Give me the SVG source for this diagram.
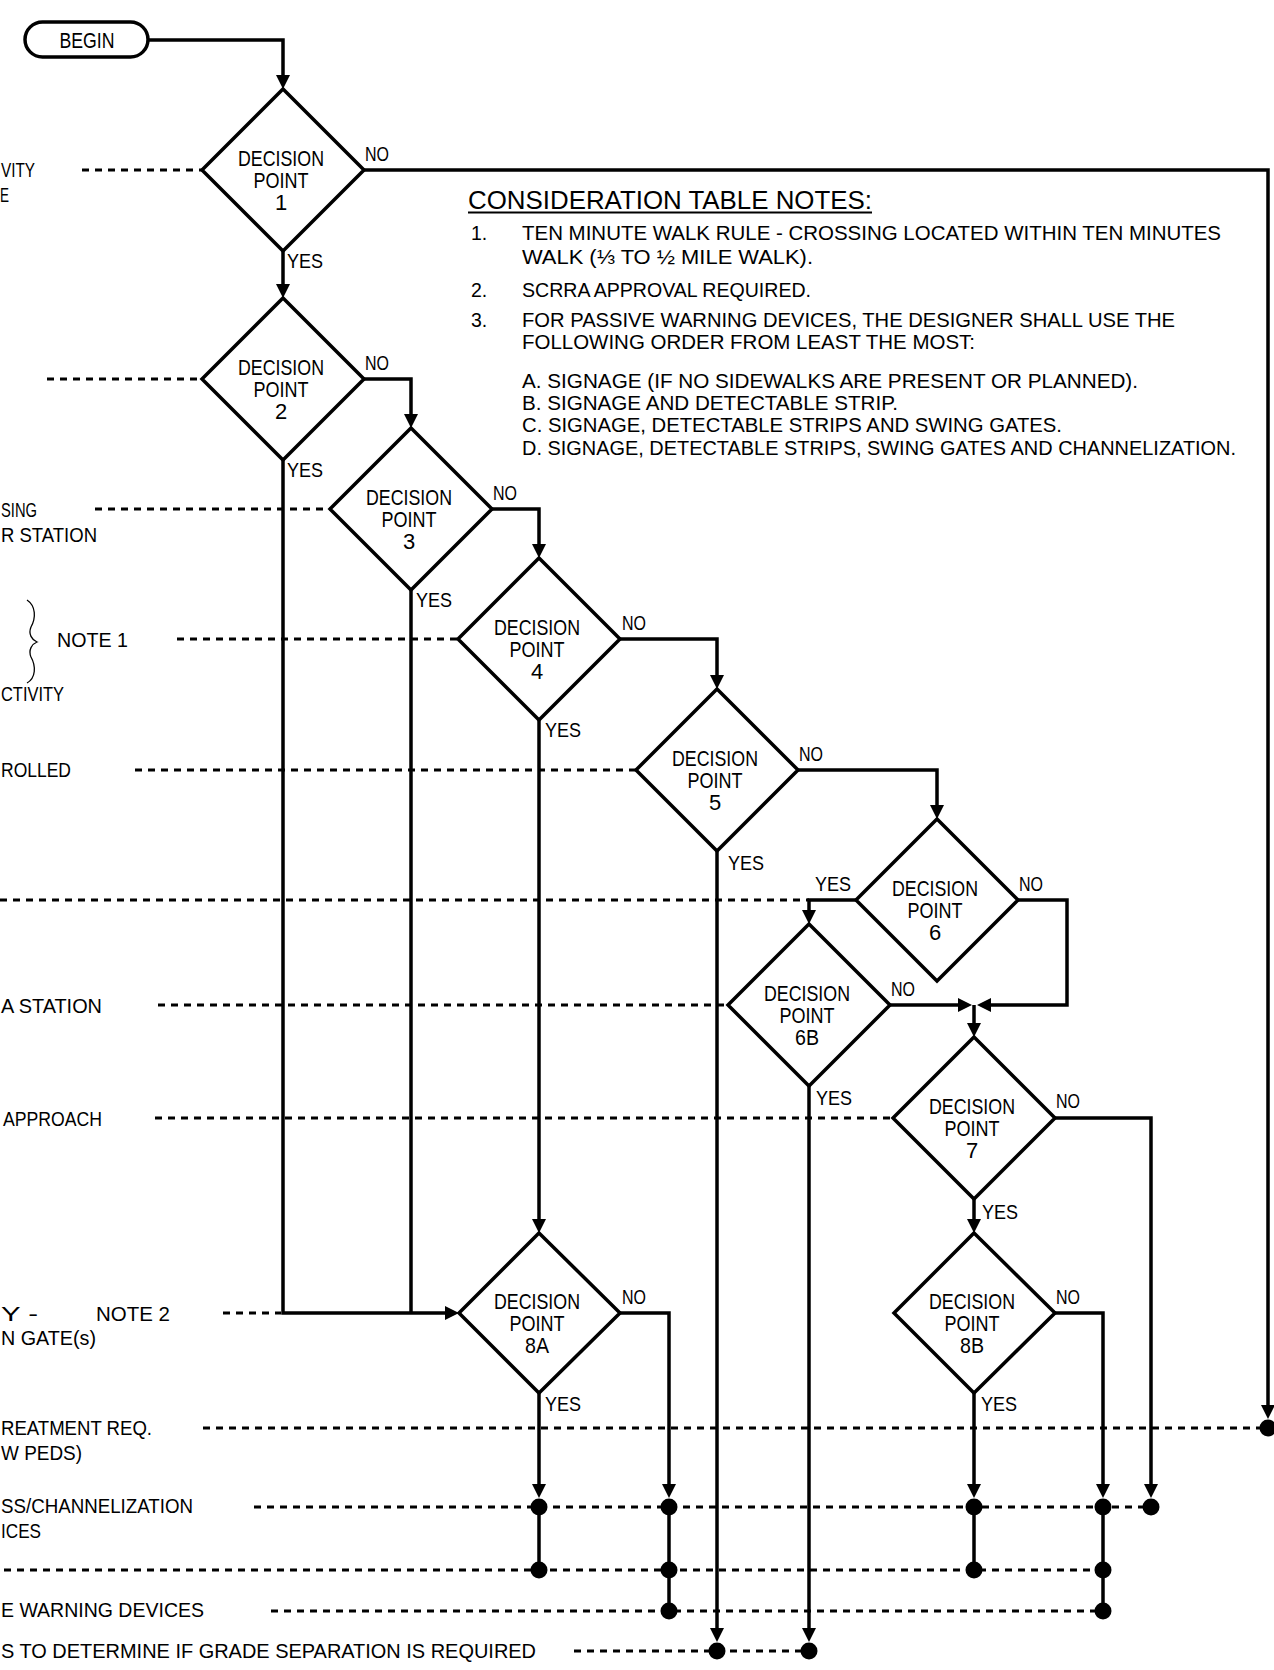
<svg xmlns="http://www.w3.org/2000/svg" width="1274" height="1670" viewBox="0 0 1274 1670">
<style>
text{font-family:"Liberation Sans",Arial,sans-serif;fill:#000}
.d{font-size:22px;text-anchor:middle}
.lb{font-size:21px}
.lt{font-size:21px}
.nt{font-size:19.5px}
.ttl{font-size:26px}
.shape{fill:#fff;stroke:#000;stroke-width:3.5;stroke-linejoin:miter}
.ln{fill:none;stroke:#000;stroke-width:3.5}
.ar{marker-end:url(#ah)}
.dash{fill:none;stroke:#000;stroke-width:3;stroke-dasharray:7 6}
.dot{fill:#000}
</style>
<defs>
<marker id="ah" markerUnits="userSpaceOnUse" markerWidth="14" markerHeight="14" viewBox="0 0 14 14" refX="10" refY="7" orient="auto">
<path d="M0,0 L14,7 L0,14 z" fill="#000"/>
</marker>
</defs>
<rect width="1274" height="1670" fill="#fff"/>

<g id="guides">
<line class="dash" x1="82" y1="170" x2="202" y2="170"/>
<line class="dash" x1="47" y1="379" x2="202" y2="379"/>
<line class="dash" x1="95" y1="509" x2="330" y2="509"/>
<line class="dash" x1="177" y1="639" x2="458" y2="639"/>
<line class="dash" x1="135" y1="770" x2="636" y2="770"/>
<line class="dash" x1="0" y1="900" x2="809" y2="900"/>
<line class="dash" x1="158" y1="1005" x2="728" y2="1005"/>
<line class="dash" x1="155" y1="1118" x2="893" y2="1118"/>
<line class="dash" x1="223" y1="1313" x2="281" y2="1313"/>
<line class="dash" x1="203" y1="1428" x2="1268" y2="1428"/>
<line class="dash" x1="254" y1="1507" x2="1151" y2="1507"/>
<line class="dash" x1="4" y1="1570" x2="1103" y2="1570"/>
<line class="dash" x1="271" y1="1611" x2="1103" y2="1611"/>
<line class="dash" x1="574" y1="1651" x2="809" y2="1651"/>
</g>

<g id="row-labels">
<text class="lt" x="1" y="177" textLength="34" lengthAdjust="spacingAndGlyphs">VITY</text>
<text class="lt" x="0" y="202" textLength="9" lengthAdjust="spacingAndGlyphs">E</text>
<text class="lt" x="1" y="517" textLength="36" lengthAdjust="spacingAndGlyphs">SING</text>
<text class="lt" x="1" y="542" textLength="96" lengthAdjust="spacingAndGlyphs">R STATION</text>
<path d="M27,600 C36,606 36,618 31,627 C28,634 32,640 37,642 C32,644 28,650 31,657 C36,666 36,678 27,683" fill="none" stroke="#000" stroke-width="1.3"/>
<text class="lt" x="57" y="647" textLength="71" lengthAdjust="spacingAndGlyphs">NOTE 1</text>
<text class="lt" x="1" y="701" textLength="63" lengthAdjust="spacingAndGlyphs">CTIVITY</text>
<text class="lt" x="1" y="777" textLength="70" lengthAdjust="spacingAndGlyphs">ROLLED</text>
<text class="lt" x="1" y="1013" textLength="101" lengthAdjust="spacingAndGlyphs">A STATION</text>
<text class="lt" x="3" y="1126" textLength="99" lengthAdjust="spacingAndGlyphs">APPROACH</text>
<text class="lt" x="1" y="1321" textLength="37" lengthAdjust="spacingAndGlyphs">Y -</text>
<text class="lt" x="96" y="1321" textLength="74" lengthAdjust="spacingAndGlyphs">NOTE 2</text>
<text class="lt" x="1" y="1345" textLength="95" lengthAdjust="spacingAndGlyphs">N GATE(s)</text>
<text class="lt" x="1" y="1435" textLength="151" lengthAdjust="spacingAndGlyphs">REATMENT REQ.</text>
<text class="lt" x="1" y="1460" textLength="81" lengthAdjust="spacingAndGlyphs">W PEDS)</text>
<text class="lt" x="1" y="1513" textLength="192" lengthAdjust="spacingAndGlyphs">SS/CHANNELIZATION</text>
<text class="lt" x="1" y="1538" textLength="40" lengthAdjust="spacingAndGlyphs">ICES</text>
<text class="lt" x="1" y="1617" textLength="203" lengthAdjust="spacingAndGlyphs">E WARNING DEVICES</text>
<text class="lt" x="1" y="1658" textLength="535" lengthAdjust="spacingAndGlyphs">S TO DETERMINE IF GRADE SEPARATION IS REQUIRED</text>
</g>

<g id="notes">
<text class="ttl" x="468" y="209" textLength="404" lengthAdjust="spacingAndGlyphs">CONSIDERATION TABLE NOTES:</text>
<line x1="468" y1="212.5" x2="872" y2="212.5" stroke="#000" stroke-width="2"/>
<text class="nt" x="471" y="240">1.</text>
<text class="nt" x="522" y="240" textLength="699" lengthAdjust="spacingAndGlyphs">TEN MINUTE WALK RULE - CROSSING LOCATED WITHIN TEN MINUTES</text>
<text class="nt" x="522" y="264" textLength="291" lengthAdjust="spacingAndGlyphs">WALK (⅓ TO ½ MILE WALK).</text>
<text class="nt" x="471" y="297">2.</text>
<text class="nt" x="522" y="297" textLength="289" lengthAdjust="spacingAndGlyphs">SCRRA APPROVAL REQUIRED.</text>
<text class="nt" x="471" y="327">3.</text>
<text class="nt" x="522" y="327" textLength="653" lengthAdjust="spacingAndGlyphs">FOR PASSIVE WARNING DEVICES, THE DESIGNER SHALL USE THE</text>
<text class="nt" x="522" y="349" textLength="453" lengthAdjust="spacingAndGlyphs">FOLLOWING ORDER FROM LEAST THE MOST:</text>
<text class="nt" x="522" y="388" textLength="616" lengthAdjust="spacingAndGlyphs">A. SIGNAGE (IF NO SIDEWALKS ARE PRESENT OR PLANNED).</text>
<text class="nt" x="522" y="410" textLength="376" lengthAdjust="spacingAndGlyphs">B. SIGNAGE AND DETECTABLE STRIP.</text>
<text class="nt" x="522" y="432" textLength="540" lengthAdjust="spacingAndGlyphs">C. SIGNAGE, DETECTABLE STRIPS AND SWING GATES.</text>
<text class="nt" x="522" y="455" textLength="714" lengthAdjust="spacingAndGlyphs">D. SIGNAGE, DETECTABLE STRIPS, SWING GATES AND CHANNELIZATION.</text>
</g>

<g id="connectors">
<path class="ln ar" d="M148,40 H283 V85"/>
<path class="ln ar" d="M283,251 V294"/>
<path class="ln ar" d="M364,170 H1268 V1415"/>
<path class="ln ar" d="M364,379 H411 V424"/>
<path class="ln ar" d="M283,460 V1313 H455"/>
<path class="ln ar" d="M492,509 H539 V554"/>
<path class="ln" d="M411,590 V1313"/>
<path class="ln ar" d="M620,639 H717 V685"/>
<path class="ln ar" d="M539,720 V1229"/>
<path class="ln ar" d="M798,770 H937 V815"/>
<path class="ln ar" d="M717,851 V1638"/>
<path class="ln ar" d="M856,900 H809 V920"/>
<path class="ln ar" d="M1018,900 H1067 V1005 H981"/>
<path class="ln ar" d="M890,1005 H968"/>
<path class="ln ar" d="M974,1005 V1033"/>
<path class="ln ar" d="M809,1086 V1638"/>
<path class="ln ar" d="M974,1199 V1229"/>
<path class="ln ar" d="M1055,1118 H1151 V1494"/>
<path class="ln ar" d="M539,1393 V1494"/>
<path class="ln" d="M539,1507 V1570"/>
<path class="ln ar" d="M620,1313 H669 V1494"/>
<path class="ln" d="M669,1507 V1611"/>
<path class="ln ar" d="M974,1393 V1494"/>
<path class="ln" d="M974,1507 V1570"/>
<path class="ln ar" d="M1055,1313 H1103 V1494"/>
<path class="ln" d="M1103,1507 V1611"/>
<circle class="dot" cx="1268" cy="1428" r="8.5"/>
<circle class="dot" cx="539" cy="1507" r="8.5"/>
<circle class="dot" cx="669" cy="1507" r="8.5"/>
<circle class="dot" cx="974" cy="1507" r="8.5"/>
<circle class="dot" cx="1103" cy="1507" r="8.5"/>
<circle class="dot" cx="1151" cy="1507" r="8.5"/>
<circle class="dot" cx="539" cy="1570" r="8.5"/>
<circle class="dot" cx="669" cy="1570" r="8.5"/>
<circle class="dot" cx="974" cy="1570" r="8.5"/>
<circle class="dot" cx="1103" cy="1570" r="8.5"/>
<circle class="dot" cx="669" cy="1611" r="8.5"/>
<circle class="dot" cx="1103" cy="1611" r="8.5"/>
<circle class="dot" cx="717" cy="1651" r="8.5"/>
<circle class="dot" cx="809" cy="1651" r="8.5"/>
<g class="lb">
<text x="365" y="161" textLength="24" lengthAdjust="spacingAndGlyphs">NO</text>
<text x="287" y="268" textLength="36" lengthAdjust="spacingAndGlyphs">YES</text>
<text x="365" y="370" textLength="24" lengthAdjust="spacingAndGlyphs">NO</text>
<text x="287" y="477" textLength="36" lengthAdjust="spacingAndGlyphs">YES</text>
<text x="493" y="500" textLength="24" lengthAdjust="spacingAndGlyphs">NO</text>
<text x="416" y="607" textLength="36" lengthAdjust="spacingAndGlyphs">YES</text>
<text x="622" y="630" textLength="24" lengthAdjust="spacingAndGlyphs">NO</text>
<text x="545" y="737" textLength="36" lengthAdjust="spacingAndGlyphs">YES</text>
<text x="799" y="761" textLength="24" lengthAdjust="spacingAndGlyphs">NO</text>
<text x="728" y="870" textLength="36" lengthAdjust="spacingAndGlyphs">YES</text>
<text x="815" y="891" textLength="36" lengthAdjust="spacingAndGlyphs">YES</text>
<text x="1019" y="891" textLength="24" lengthAdjust="spacingAndGlyphs">NO</text>
<text x="891" y="996" textLength="24" lengthAdjust="spacingAndGlyphs">NO</text>
<text x="816" y="1105" textLength="36" lengthAdjust="spacingAndGlyphs">YES</text>
<text x="1056" y="1108" textLength="24" lengthAdjust="spacingAndGlyphs">NO</text>
<text x="982" y="1219" textLength="36" lengthAdjust="spacingAndGlyphs">YES</text>
<text x="622" y="1304" textLength="24" lengthAdjust="spacingAndGlyphs">NO</text>
<text x="545" y="1411" textLength="36" lengthAdjust="spacingAndGlyphs">YES</text>
<text x="1056" y="1304" textLength="24" lengthAdjust="spacingAndGlyphs">NO</text>
<text x="981" y="1411" textLength="36" lengthAdjust="spacingAndGlyphs">YES</text>
</g>
</g>

<g id="begin">
<rect class="shape" x="25" y="22" width="123" height="35" rx="17.5"/>
<text x="87" y="48" style="font-size:22px;text-anchor:middle" textLength="55" lengthAdjust="spacingAndGlyphs">BEGIN</text>
</g>

<g id="dp1">
<polygon class="shape" points="283,89 364,170 283,251 202,170"/>
<text class="d" x="281" y="166" textLength="86" lengthAdjust="spacingAndGlyphs">DECISION</text>
<text class="d" x="281" y="188" textLength="55" lengthAdjust="spacingAndGlyphs">POINT</text>
<text class="d" x="281" y="210">1</text>
</g>
<g id="dp2">
<polygon class="shape" points="283,298 364,379 283,460 202,379"/>
<text class="d" x="281" y="375" textLength="86" lengthAdjust="spacingAndGlyphs">DECISION</text>
<text class="d" x="281" y="397" textLength="55" lengthAdjust="spacingAndGlyphs">POINT</text>
<text class="d" x="281" y="419">2</text>
</g>
<g id="dp3">
<polygon class="shape" points="411,428 492,509 411,590 330,509"/>
<text class="d" x="409" y="505" textLength="86" lengthAdjust="spacingAndGlyphs">DECISION</text>
<text class="d" x="409" y="527" textLength="55" lengthAdjust="spacingAndGlyphs">POINT</text>
<text class="d" x="409" y="549">3</text>
</g>
<g id="dp4">
<polygon class="shape" points="539,558 620,639 539,720 458,639"/>
<text class="d" x="537" y="635" textLength="86" lengthAdjust="spacingAndGlyphs">DECISION</text>
<text class="d" x="537" y="657" textLength="55" lengthAdjust="spacingAndGlyphs">POINT</text>
<text class="d" x="537" y="679">4</text>
</g>
<g id="dp5">
<polygon class="shape" points="717,689 798,770 717,851 636,770"/>
<text class="d" x="715" y="766" textLength="86" lengthAdjust="spacingAndGlyphs">DECISION</text>
<text class="d" x="715" y="788" textLength="55" lengthAdjust="spacingAndGlyphs">POINT</text>
<text class="d" x="715" y="810">5</text>
</g>
<g id="dp6">
<polygon class="shape" points="937,819 1018,900 937,981 856,900"/>
<text class="d" x="935" y="896" textLength="86" lengthAdjust="spacingAndGlyphs">DECISION</text>
<text class="d" x="935" y="918" textLength="55" lengthAdjust="spacingAndGlyphs">POINT</text>
<text class="d" x="935" y="940">6</text>
</g>
<g id="dp6b">
<polygon class="shape" points="809,924 890,1005 809,1086 728,1005"/>
<text class="d" x="807" y="1001" textLength="86" lengthAdjust="spacingAndGlyphs">DECISION</text>
<text class="d" x="807" y="1023" textLength="55" lengthAdjust="spacingAndGlyphs">POINT</text>
<text class="d" x="807" y="1045" textLength="24" lengthAdjust="spacingAndGlyphs">6B</text>
</g>
<g id="dp7">
<polygon class="shape" points="974,1037 1055,1118 974,1199 893,1118"/>
<text class="d" x="972" y="1114" textLength="86" lengthAdjust="spacingAndGlyphs">DECISION</text>
<text class="d" x="972" y="1136" textLength="55" lengthAdjust="spacingAndGlyphs">POINT</text>
<text class="d" x="972" y="1158">7</text>
</g>
<g id="dp8a">
<polygon class="shape" points="539,1233 620,1313 539,1393 459,1313"/>
<text class="d" x="537" y="1309" textLength="86" lengthAdjust="spacingAndGlyphs">DECISION</text>
<text class="d" x="537" y="1331" textLength="55" lengthAdjust="spacingAndGlyphs">POINT</text>
<text class="d" x="537" y="1353" textLength="24" lengthAdjust="spacingAndGlyphs">8A</text>
</g>
<g id="dp8b">
<polygon class="shape" points="974,1233 1055,1313 974,1393 894,1313"/>
<text class="d" x="972" y="1309" textLength="86" lengthAdjust="spacingAndGlyphs">DECISION</text>
<text class="d" x="972" y="1331" textLength="55" lengthAdjust="spacingAndGlyphs">POINT</text>
<text class="d" x="972" y="1353" textLength="24" lengthAdjust="spacingAndGlyphs">8B</text>
</g>
</svg>
